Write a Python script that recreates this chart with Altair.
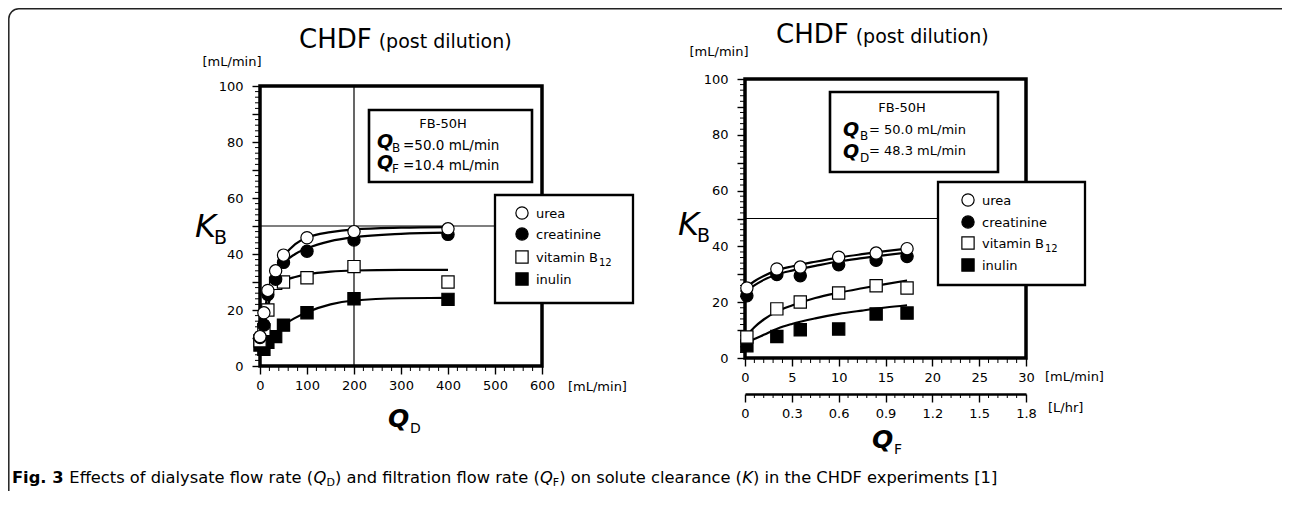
import altair as alt
import pandas as pd

FONT = "DejaVu Sans"

solutes = ["urea", "creatinine", "vitamin B12", "inulin"]
solute_shapes = ["circle", "circle", "square", "square"]
solute_fills = ["white", "black", "white", "black"]

# ---------------- left panel: K_B vs Q_D (Q_B = 50.0, Q_F = 10.4 mL/min)
qd = [0, 8.3, 16.7, 33.3, 50, 100, 200, 400]
qd_urea = [10.5, 19.0, 27.0, 34.0, 39.6, 45.8, 48.0, 49.0]
qd_creatinine = [10.2, 14.6, 25.5, 31.0, 37.0, 41.0, 45.0, 47.0]
qd_vitamin_b12 = [9.0, 13.0, 20.0, 29.5, 30.0, 31.5, 35.5, 30.0]
qd_inulin = [7.5, 6.0, 8.5, 10.5, 14.6, 19.0, 24.0, 23.8]

qd_fit = [0, 5, 10, 17, 25, 33, 50, 75, 100, 150, 200, 300, 400]
qd_fit_urea = [10.5, 15.0, 19.5, 26.5, 31.0, 34.0, 39.0, 43.5, 45.8, 47.8, 48.8, 49.4, 49.6]
qd_fit_creatinine = [10.3, 12.5, 15.5, 21.0, 27.0, 31.0, 36.5, 40.0, 42.0, 44.6, 46.0, 47.2, 47.6]
qd_fit_vitamin_b12 = [9.0, 12.0, 16.0, 22.0, 26.5, 28.8, 30.5, 31.8, 32.7, 33.7, 34.1, 34.3, 34.3]
qd_fit_inulin = [7.0, 7.5, 8.0, 9.2, 10.6, 11.8, 14.5, 17.2, 19.2, 22.0, 23.4, 24.2, 24.3]

qd_ticks = [0, 100, 200, 300, 400, 500, 600]
kb_ticks = [0, 10, 20, 30, 40, 50, 60, 70, 80, 90, 100]

# ---------------- right panel: K_B vs Q_F (Q_B = 50.0, Q_D = 48.3 mL/min)
qf = [0.2, 3.4, 5.9, 10.0, 14.0, 17.3]
qf_urea = [25.1, 31.9, 32.6, 36.1, 37.6, 39.2]
qf_creatinine = [22.3, 29.9, 29.5, 33.4, 35.0, 36.4]
qf_vitamin_b12 = [7.5, 17.6, 20.1, 23.3, 25.9, 25.1]
qf_inulin = [4.4, 7.7, 10.1, 10.4, 15.8, 16.1]

qf_fit = [0.2, 1, 2, 3.5, 5, 7.5, 10, 12.5, 15, 17.3]
qf_fit_urea = [25.5, 27.5, 29.4, 31.5, 32.8, 34.5, 36.0, 37.2, 38.3, 39.2]
qf_fit_creatinine = [24.0, 26.0, 28.0, 30.0, 31.3, 33.0, 34.6, 35.8, 36.9, 37.8]
qf_fit_vitamin_b12 = [8.0, 11.0, 13.8, 16.8, 18.8, 21.5, 23.4, 25.0, 26.5, 27.8]
qf_fit_inulin = [5.5, 6.8, 8.3, 10.6, 12.2, 14.2, 15.8, 17.0, 18.1, 18.9]

qf_ticks = [0, 5, 10, 15, 20, 25, 30]
qf_lhr_ticks = [0, 0.3, 0.6, 0.9, 1.2, 1.5, 1.8]

# ---------------- layout (pixels inside the 1274 x 483 view)
W, H = 1274, 483
L_AX_X, L_AX_Y = 252, 358      # left panel: y-axis x pos, x-axis y pos
R_AX_X, R_AX_Y = 737, 350      # right panel
S_AX_Y = 386                   # secondary (L/hr) axis


def lin(domain, rng):
    return alt.Scale(domain=domain, range=rng, nice=False, zero=False)


L_X = lin([0, 600], [252, 534])
L_Y = lin([0, 100], [358, 78])
R_X = lin([0, 30], [737, 1018])
R_Y = lin([0, 100], [350, 71])
S_X = lin([0, 1.8], [737, 1018])

DJV = {" ": .318, "(": .390, ")": .390, "[": .390, "]": .390, ".": .318, ",": .318,
       "/": .337, "=": .838, "-": .361,
       "a": .613, "b": .635, "c": .550, "d": .635, "e": .615, "f": .352, "g": .635,
       "h": .634, "i": .278, "j": .278, "k": .579, "l": .278, "m": .974, "n": .634,
       "o": .612, "p": .635, "q": .635, "r": .411, "s": .521, "t": .392, "u": .634,
       "v": .592, "w": .818, "x": .592, "y": .592, "z": .525,
       "A": .684, "B": .686, "C": .698, "D": .770, "E": .632, "F": .575, "G": .775,
       "H": .752, "I": .295, "K": .656, "L": .557, "M": .863, "N": .748, "O": .787,
       "P": .603, "Q": .787, "R": .695, "S": .635, "T": .611}
for d in "0123456789":
    DJV[d] = .636


def tw(s, size):
    return sum(DJV.get(c, 0.6) for c in s) * size


def tidy(xs, cols, reverse=False):
    frames = [pd.DataFrame({"x": xs, "y": ys, "solute": name}) for name, ys in zip(solutes, cols)]
    if reverse:
        frames = frames[::-1]
    return pd.concat(frames, ignore_index=True)


dummy = pd.DataFrame({"d": [0]})


def axis_common(**kw):
    base = dict(domain=False, grid=False, tickColor="black", tickWidth=1.4, tickSize=8,
                labelFont=FONT, labelFontSize=13, labelColor="black", title=None,
                labelOverlap=False, labelFlush=False)
    base.update(kw)
    return alt.Axis(**base)


def panel(pts_df, fit_df, xs, ys, x_axis, y_axis, xmax, x_minor, y_minor, ax_x, ax_y, vline=None):
    def XD(v):
        return alt.XDatum(v, type="quantitative", scale=xs, axis=None)

    def YD(v):
        return alt.YDatum(v, type="quantitative", scale=ys, axis=None)

    frame = alt.Chart(dummy).mark_rect(fillOpacity=0, stroke="black", strokeWidth=3.5).encode(
        x=XD(0), x2=alt.X2Datum(xmax), y=YD(0), y2=alt.Y2Datum(100))
    hline = alt.Chart(dummy).mark_rule(color="black", strokeWidth=1.2).encode(
        x=XD(0), x2=alt.X2Datum(xmax), y=YD(50))
    layers = [frame, hline]
    if vline is not None:
        layers.append(alt.Chart(dummy).mark_rule(color="black", strokeWidth=1.2).encode(
            x=XD(vline), y=YD(0), y2=alt.Y2Datum(100)))
    layers.append(alt.Chart(pd.DataFrame({"t": x_minor})).mark_rule(color="black", strokeWidth=1).encode(
        x=alt.X("t:Q", scale=xs, axis=None), y=alt.value(ax_y), y2=alt.value(ax_y + 5)))
    layers.append(alt.Chart(pd.DataFrame({"t": y_minor})).mark_rule(color="black", strokeWidth=1).encode(
        y=alt.Y("t:Q", scale=ys, axis=None), x=alt.value(ax_x - 5), x2=alt.value(ax_x)))
    layers.append(alt.Chart(fit_df).mark_line(color="black", strokeWidth=2.2,
                                              interpolate="monotone").encode(
        x=alt.X("x:Q", scale=xs, axis=None), y=alt.Y("y:Q", scale=ys, axis=None),
        detail="solute:N"))
    layers.append(alt.Chart(pts_df).mark_point(filled=True, stroke="black", strokeWidth=1.2,
                                               size=150, opacity=1).encode(
        x=alt.X("x:Q", scale=xs, axis=x_axis), y=alt.Y("y:Q", scale=ys, axis=y_axis),
        shape=alt.Shape("solute:N", scale=alt.Scale(domain=solutes, range=solute_shapes), legend=None),
        fill=alt.Fill("solute:N", scale=alt.Scale(domain=solutes, range=solute_fills), legend=None)))
    return layers


y_label_expr = "datum.value % 20 === 0 ? datum.label : ''"

left = panel(
    tidy(qd, [qd_urea, qd_creatinine, qd_vitamin_b12, qd_inulin], reverse=True),
    tidy(qd_fit, [qd_fit_urea, qd_fit_creatinine, qd_fit_vitamin_b12, qd_fit_inulin]),
    L_X, L_Y,
    axis_common(orient="bottom", offset=L_AX_Y - H, values=qd_ticks, labelPadding=5),
    axis_common(orient="left", offset=-L_AX_X, values=kb_ticks, labelExpr=y_label_expr, labelPadding=9),
    600, [v for v in range(0, 601, 20) if v % 100], [v for v in range(0, 101, 2) if v % 10],
    L_AX_X, L_AX_Y, vline=200)

right = panel(
    tidy(qf, [qf_urea, qf_creatinine, qf_vitamin_b12, qf_inulin], reverse=True),
    tidy(qf_fit, [qf_fit_urea, qf_fit_creatinine, qf_fit_vitamin_b12, qf_fit_inulin]),
    R_X, R_Y,
    axis_common(orient="bottom", offset=R_AX_Y - H, values=qf_ticks, labelPadding=5),
    axis_common(orient="left", offset=-R_AX_X, values=kb_ticks, labelExpr=y_label_expr, labelPadding=9),
    30, [v for v in range(0, 31) if v % 5], [v for v in range(0, 101, 2) if v % 10],
    R_AX_X, R_AX_Y)

sec = alt.Chart(pd.DataFrame({"t": [round(i * 0.06, 2) for i in range(31) if i % 5]})).mark_rule(
    color="black", strokeWidth=1).encode(
    x=alt.X("t:Q", scale=S_X, axis=axis_common(
        orient="bottom", offset=S_AX_Y - H, values=qf_lhr_ticks, domain=True, domainWidth=2.5,
        domainColor="black", labelPadding=5,
        labelExpr="datum.value == 0 ? '0' : format(datum.value, '.1f')")),
    y=alt.value(S_AX_Y), y2=alt.value(S_AX_Y + 4))


# ---------------- annotations
def txt(s, x, y, size=13, align="left", baseline="alphabetic", style="normal", weight="normal"):
    return alt.Chart(dummy).mark_text(text=s, align=align, baseline=baseline, fontSize=size,
                                      fontStyle=style, fontWeight=weight, font=FONT,
                                      color="black").encode(x=alt.value(x), y=alt.value(y))


def box(x0, x1, y0, y1, sw=2.3):
    return alt.Chart(dummy).mark_rect(fill="white", stroke="black", strokeWidth=sw).encode(
        x=alt.value(x0), x2=alt.value(x1), y=alt.value(y0), y2=alt.value(y1))


def sym(shape, fill, x, y):
    return alt.Chart(dummy).mark_point(shape=shape, filled=True, fill=fill, stroke="black",
                                       strokeWidth=1.2, size=150, opacity=1).encode(
        x=alt.value(x), y=alt.value(y))


annos = []

# figure border
annos.append(alt.Chart(dummy).mark_rect(fillOpacity=0, stroke="#222", strokeWidth=1.5,
                                        cornerRadius=10).encode(
    x=alt.value(0.8), x2=alt.value(1300), y=alt.value(0.8), y2=alt.value(530)))

# titles
for cx, by in [(291, 40), (768, 35)]:
    annos.append(txt("CHDF", cx, by, size=26))
    annos.append(txt("(post dilution)", cx + tw("CHDF", 26) + 7, by, size=19))

# unit labels
annos += [txt("[mL/min]", 224, 54, align="center", baseline="middle"),
          txt("[mL/min]", 711, 44, align="center", baseline="middle"),
          txt("[mL/min]", 560, 379, baseline="middle"),
          txt("[mL/min]", 1037, 369, baseline="middle"),
          txt("[L/hr]", 1040, 400, baseline="middle")]

# K_B axis titles
for kx, bx, kb, bb in [(187, 206, 229, 236), (670, 689, 227, 234)]:
    annos.append(txt("K", kx, kb, size=32, style="italic"))
    annos.append(txt("B", bx, bb, size=19))

# Q_D, Q_F axis titles
annos += [txt("Q", 380, 419, size=25, style="italic", weight="bold"),
          txt("D", 402, 425, size=14),
          txt("Q", 864, 440, size=25, style="italic", weight="bold"),
          txt("F", 886, 446, size=14)]

# info boxes
annos.append(box(361, 524, 102, 174, sw=2.6))
annos += [txt("FB-50H", 435, 120, align="center"),
          txt("Q", 369, 140, size=19, style="italic", weight="bold"),
          txt("B", 384, 144, size=12),
          txt("=50.0 mL/min", 395, 142, size=13.5),
          txt("Q", 369, 161, size=19, style="italic", weight="bold"),
          txt("F", 384, 165, size=12),
          txt("=10.4 mL/min", 395, 162, size=13.5)]
annos.append(box(822, 990, 84, 164, sw=2.6))
annos += [txt("FB-50H", 894, 104, align="center"),
          txt("Q", 835, 128, size=19, style="italic", weight="bold"),
          txt("B", 852, 132, size=12),
          txt("= 50.0 mL/min", 861, 126, size=13),
          txt("Q", 835, 150, size=19, style="italic", weight="bold"),
          txt("D", 852, 154, size=12),
          txt("= 48.3 mL/min", 861, 147, size=13)]

# legend boxes
legend_labels = ["urea", "creatinine", "vitamin B", "inulin"]
for (x0, x1, y0, y1), sx, tx, ys in [((487, 625, 187, 295), 514, 528, [205, 226, 249, 271]),
                                     ((930, 1077, 174, 277), 960, 974, [192, 214, 235, 257])]:
    annos.append(box(x0, x1, y0, y1))
    for lab, shp, fl, yy in zip(legend_labels, solute_shapes, solute_fills, ys):
        annos.append(sym(shp, fl, sx, yy))
        annos.append(txt(lab, tx, yy + 4.5))
        if lab == "vitamin B":
            annos.append(txt("12", tx + tw("vitamin B", 13) + 1, yy + 8.5, size=10))

# caption (segments; leading spaces are added as offsets because SVG collapses them)
CAP = 16.3
SUB = 11
segs = [("Fig. 3", "normal", "bold", CAP, 0, 0),
        ("Effects of dialysate flow rate (", "normal", "normal", CAP, 0, 1),
        ("Q", "italic", "normal", CAP, 0, 0),
        ("D", "normal", "normal", SUB, 3, 0),
        (") and filtration flow rate (", "normal", "normal", CAP, 0, 0),
        ("Q", "italic", "normal", CAP, 0, 0),
        ("F", "normal", "normal", SUB, 3, 0),
        (") on solute clearance (", "normal", "normal", CAP, 0, 0),
        ("K", "italic", "normal", CAP, 0, 0),
        (") in the CHDF experiments [1]", "normal", "normal", CAP, 0, 0)]
cx = 4
for s, st, wt, sz, dy, lead in segs:
    cx += lead * tw(" ", sz)
    annos.append(txt(s, cx, 475 + dy, size=sz, style=st, weight=wt))
    cx += (3.2 * sz) if wt == "bold" else tw(s, sz)

chart = alt.layer(*left, *right, sec, *annos).resolve_scale(
    x="independent", y="independent").properties(
    width=W, height=H, padding=0, background="white",
    autosize=alt.AutoSizeParams(type="none")).configure_view(stroke=None)

chart.save("out.html", embed_options={"renderer": "svg", "actions": False})
